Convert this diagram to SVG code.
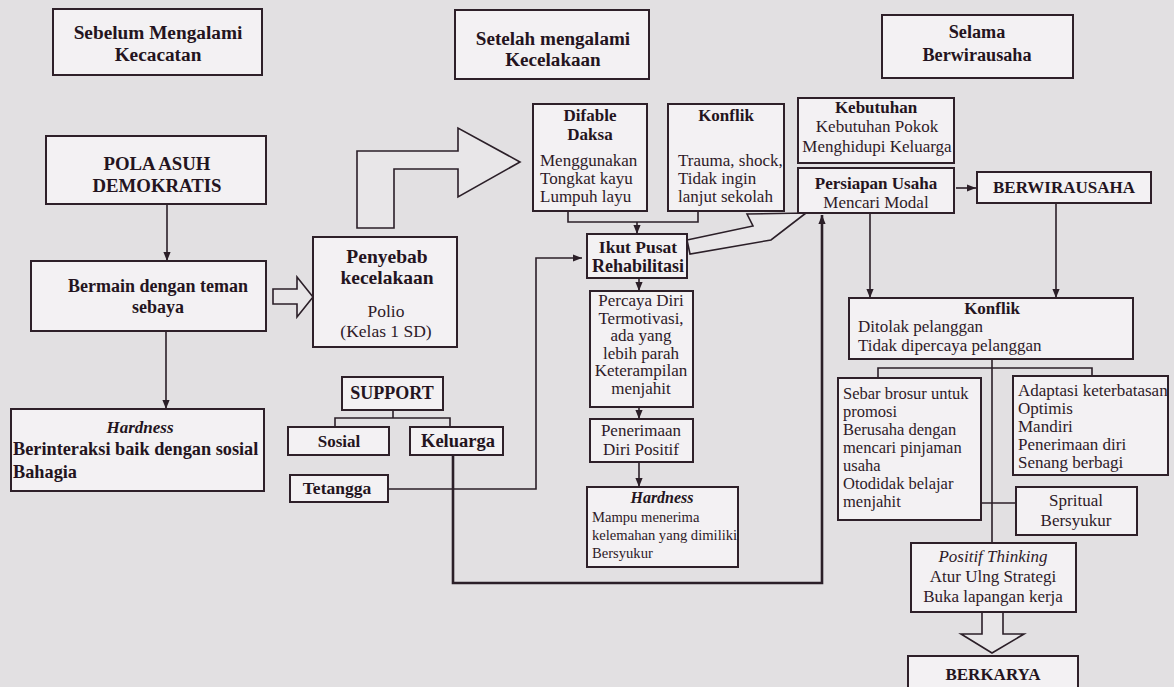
<svg xmlns="http://www.w3.org/2000/svg" width="1174" height="687" viewBox="0 0 1174 687">
<defs>
<style>
.bg{fill:#e2e0e2}
.bx{fill:#f3f1f3;stroke:#2e2029;stroke-width:2}
.t{fill:#2e1a28}
.b{font-weight:bold;fill:#241420}
.i{font-style:italic}
.m{text-anchor:middle}
.c{fill:none;stroke:#2b1f28;stroke-width:1.6}
.k{fill:none;stroke:#2b1f28;stroke-width:2.6}
.h{fill:#e8e6e8;stroke:#2b1f28;stroke-width:1.6;stroke-linejoin:miter}
</style>
<marker id="a" viewBox="0 0 10 10" refX="10" refY="5" markerWidth="9" markerHeight="9" markerUnits="userSpaceOnUse" orient="auto"><path d="M0,1 L10,5 L0,9 z" fill="#2b1f28"/></marker>
</defs>
<rect class="bg" x="0" y="0" width="1174" height="687"/>

<g id="connectors">
<line class="c" x1="167" y1="204" x2="167" y2="261" marker-end="url(#a)"/>
<line class="c" x1="166" y1="331" x2="166" y2="409" marker-end="url(#a)"/>
<polygon class="h" points="273,289 297,289 297,277 313,297 297,317 297,304 273,304"/>
<polygon class="h" points="357,228 357,151 458,151 458,128 520,162 458,197 458,169 394,169 394,228"/>
<polyline class="c" points="568,211 568,222 698,222 698,211"/>
<line class="c" x1="637" y1="222" x2="637" y2="234" marker-end="url(#a)"/>
<line class="c" x1="639" y1="278" x2="639" y2="291" marker-end="url(#a)"/>
<line class="c" x1="639" y1="407" x2="639" y2="419" marker-end="url(#a)"/>
<line class="c" x1="639" y1="462" x2="639" y2="487" marker-end="url(#a)"/>
<polygon class="h" points="687,240 753,226 747,214 806,213 771,240 690,254"/>
<polyline class="c" points="388,489 536,489 536,258 582,258" marker-end="url(#a)"/>
<polyline class="c" points="393,410 393,418"/>
<polyline class="c" points="335,427 335,418 450,418 450,427"/>
<polyline class="k" points="453,456 453,583 822,583 822,215" marker-end="url(#a)"/>
<line class="c" x1="956" y1="188" x2="976" y2="188" marker-end="url(#a)"/>
<line class="c" x1="870" y1="213" x2="870" y2="298" marker-end="url(#a)"/>
<line class="c" x1="1056" y1="203" x2="1056" y2="298" marker-end="url(#a)"/>
<line class="c" x1="992" y1="359" x2="992" y2="543"/>
<polyline class="c" points="878,378 878,368 1092,368 1092,376"/>
<line class="c" x1="981" y1="503" x2="1016" y2="503"/>
<polygon class="h" points="982,612 1003,612 1003,634 1024,634 992,653 961,634 982,634"/>
</g>

<g font-family="Liberation Serif, Times New Roman, serif" font-size="17">
<g id="n-sebelum"><rect class="bx" x="53" y="9" width="209" height="66"/>
<text class="t b m" x="158" y="39" font-size="19.3">Sebelum Mengalami</text>
<text class="t b m" x="158" y="61" font-size="19.3">Kecacatan</text></g>

<g id="n-pola"><rect class="bx" x="46" y="136" width="220" height="68"/>
<text class="t b m" x="157" y="170" font-size="18.8">POLA ASUH</text>
<text class="t b m" x="157" y="192" font-size="18.8">DEMOKRATIS</text></g>

<g id="n-bermain"><rect class="bx" x="31" y="261" width="235" height="70"/>
<text class="t b m" x="158" y="292" font-size="18">Bermain dengan teman</text>
<text class="t b m" x="158" y="313" font-size="18">sebaya</text></g>

<g id="n-hardness1"><rect class="bx" x="11" y="409" width="253" height="82"/>
<text class="t b i m" x="140" y="433" font-size="17">Hardness</text>
<text class="t b" x="13" y="455" font-size="18.3">Berinteraksi baik dengan sosial</text>
<text class="t b" x="13" y="478" font-size="18.3">Bahagia</text></g>

<g id="n-penyebab"><rect class="bx" x="313" y="237" width="144" height="110"/>
<text class="t b m" x="387" y="263" font-size="19.5">Penyebab</text>
<text class="t b m" x="387" y="284" font-size="19.5">kecelakaan</text>
<text class="t m" x="386" y="317" font-size="17.5">Polio</text>
<text class="t m" x="386" y="337" font-size="17.5">(Kelas 1 SD)</text></g>

<g id="n-support"><rect class="bx" x="342" y="377" width="101" height="33"/>
<text class="t b m" x="392" y="399" font-size="18">SUPPORT</text></g>

<g id="n-sosial"><rect class="bx" x="288" y="427" width="101" height="28"/>
<text class="t b m" x="339" y="447">Sosial</text></g>

<g id="n-keluarga"><rect class="bx" x="410" y="427" width="93" height="28"/>
<text class="t b m" x="458" y="447" font-size="18.5">Keluarga</text></g>

<g id="n-tetangga"><rect class="bx" x="290" y="475" width="98" height="27"/>
<text class="t b m" x="337" y="494" font-size="17.5">Tetangga</text></g>

<g id="n-setelah"><rect class="bx" x="455" y="10" width="194" height="69"/>
<text class="t b m" x="553" y="45" font-size="19.1">Setelah mengalami</text>
<text class="t b m" x="553" y="66" font-size="19.1">Kecelakaan</text></g>

<g id="n-difable"><rect class="bx" x="533" y="104" width="114" height="107"/>
<text class="t b m" x="590" y="121">Difable</text>
<text class="t b m" x="590" y="140">Daksa</text>
<text class="t" x="540" y="166">Menggunakan</text>
<text class="t" x="540" y="184">Tongkat kayu</text>
<text class="t" x="540" y="202">Lumpuh layu</text></g>

<g id="n-konflik1"><rect class="bx" x="668" y="104" width="116" height="107"/>
<text class="t b m" x="726" y="121">Konflik</text>
<text class="t" x="678" y="166">Trauma, shock,</text>
<text class="t" x="678" y="184">Tidak ingin</text>
<text class="t" x="678" y="202">lanjut sekolah</text></g>

<g id="n-ikut"><rect class="bx" x="587" y="234" width="100" height="44"/>
<text class="t b m" x="638" y="253" font-size="17.5">Ikut Pusat</text>
<text class="t b m" x="638" y="272" font-size="18">Rehabilitasi</text></g>

<g id="n-percaya"><rect class="bx" x="590" y="291" width="103" height="116"/>
<text class="t m" x="641" y="306">Percaya Diri</text>
<text class="t m" x="641" y="324">Termotivasi,</text>
<text class="t m" x="641" y="341">ada yang</text>
<text class="t m" x="641" y="359">lebih parah</text>
<text class="t m" x="641" y="376">Keterampilan</text>
<text class="t m" x="641" y="394">menjahit</text></g>

<g id="n-penerimaan"><rect class="bx" x="590" y="419" width="103" height="43"/>
<text class="t m" x="641" y="436">Penerimaan</text>
<text class="t m" x="641" y="455">Diri Positif</text></g>

<g id="n-hardness2"><rect class="bx" x="587" y="487" width="151" height="80"/>
<text class="t b i m" x="662" y="503" font-size="16">Hardness</text>
<text class="t" x="592" y="522" font-size="14.6">Mampu menerima</text>
<text class="t" x="592" y="540" font-size="14.6">kelemahan yang dimiliki</text>
<text class="t" x="592" y="558" font-size="14.6">Bersyukur</text></g>

<g id="n-kebutuhan"><rect class="bx" x="798" y="98" width="156" height="65"/>
<text class="t b m" x="876" y="113">Kebutuhan</text>
<text class="t m" x="877" y="132">Kebutuhan Pokok</text>
<text class="t m" x="877" y="152">Menghidupi Keluarga</text></g>

<g id="n-persiapan"><rect class="bx" x="798" y="168" width="156" height="45"/>
<text class="t b m" x="876" y="189">Persiapan Usaha</text>
<text class="t m" x="876" y="208">Mencari Modal</text></g>

<g id="n-berwirausaha"><rect class="bx" x="977" y="172" width="174" height="31"/>
<text class="t b m" x="1064" y="193">BERWIRAUSAHA</text></g>

<g id="n-selama"><rect class="bx" x="882" y="15" width="191" height="63"/>
<text class="t b m" x="977" y="38" font-size="18.2">Selama</text>
<text class="t b m" x="977" y="61" font-size="18.2">Berwirausaha</text></g>

<g id="n-konflik2"><rect class="bx" x="849" y="298" width="284" height="61"/>
<text class="t b m" x="992" y="314">Konflik</text>
<text class="t" x="858" y="332">Ditolak pelanggan</text>
<text class="t" x="858" y="351">Tidak dipercaya pelanggan</text></g>

<g id="n-sebar"><rect class="bx" x="838" y="378" width="143" height="142"/>
<text class="t" x="843" y="399" font-size="16.5">Sebar brosur untuk</text>
<text class="t" x="843" y="417" font-size="16.5">promosi</text>
<text class="t" x="843" y="435" font-size="16.5">Berusaha dengan</text>
<text class="t" x="843" y="453" font-size="16.5">mencari pinjaman</text>
<text class="t" x="843" y="471" font-size="16.5">usaha</text>
<text class="t" x="843" y="489" font-size="16.5">Otodidak belajar</text>
<text class="t" x="843" y="507" font-size="16.5">menjahit</text></g>

<g id="n-adaptasi"><rect class="bx" x="1013" y="376" width="155" height="99"/>
<text class="t" x="1018" y="396">Adaptasi keterbatasan</text>
<text class="t" x="1018" y="414">Optimis</text>
<text class="t" x="1018" y="432">Mandiri</text>
<text class="t" x="1018" y="450">Penerimaan diri</text>
<text class="t" x="1018" y="468">Senang berbagi</text></g>

<g id="n-spritual"><rect class="bx" x="1016" y="487" width="121" height="48"/>
<text class="t m" x="1076" y="506">Spritual</text>
<text class="t m" x="1076" y="526">Bersyukur</text></g>

<g id="n-positif"><rect class="bx" x="911" y="543" width="165" height="69"/>
<text class="t i m" x="993" y="562">Positif Thinking</text>
<text class="t m" x="993" y="582">Atur Ulng Strategi</text>
<text class="t m" x="993" y="602">Buka lapangan kerja</text></g>

<g id="n-berkarya"><rect class="bx" x="908" y="656" width="170" height="40"/>
<text class="t b m" x="993" y="680">BERKARYA</text></g>
</g>
</svg>
